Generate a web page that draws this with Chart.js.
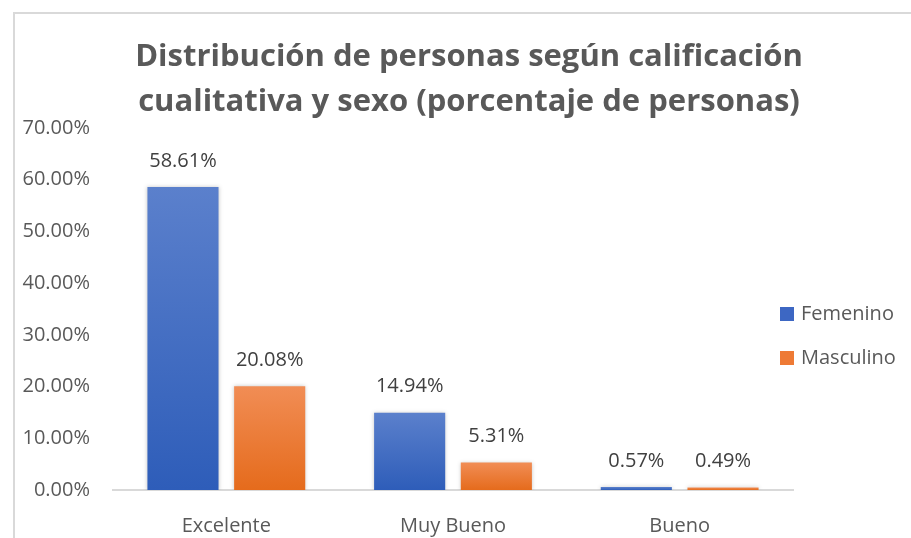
<!DOCTYPE html>
<html lang="es">
<head>
  <meta charset="UTF-8" />
  <title>Distribución de personas</title>
  <script src="https://cdn.jsdelivr.net/npm/chart.js"></script>
  <style>
    html, body { margin: 0; padding: 0; background: #fff; overflow: hidden; }
    #frame { position: absolute; left: 13px; top: 12px; width: 1000px; height: 600px;
             border-left: 2px solid #d9d9d9; border-top: 2px solid #d9d9d9; }
    #wrap { position: absolute; left: 0; top: 0; width: 911px; height: 538px; }
  </style>
</head>
<body>
  <div id="frame"></div>
  <div id="wrap"><canvas id="chart"></canvas></div>

  <script>
    // chart data
    const categories = ['Excelente', 'Muy Bueno', 'Bueno'];
    const femenino   = [58.61, 14.94, 0.57];
    const masculino  = [20.08, 5.31, 0.49];
    const titleLines = ['Distribución de personas según calificación',
                        'cualitativa y sexo (porcentaje de personas)'];

    const FONT = 'Open Sans';
    const GREY = '#595959';
    const legendFills = ['#3d67c3', '#ee7a35'];

    // vertical gradient per bar, light at top, darker at the base
    function barFill(top, bottom) {
      return (ctx) => {
        const chart = ctx.chart;
        if (!chart.chartArea || ctx.raw === undefined) return bottom;
        const y = chart.scales.y;
        const y0 = y.getPixelForValue(ctx.raw);
        const y1 = y.getPixelForValue(0);
        if (y1 - y0 < 1) return top;
        const g = chart.ctx.createLinearGradient(0, y0, 0, y1);
        g.addColorStop(0, top);
        g.addColorStop(1, bottom);
        return g;
      };
    }

    // value labels above the bars
    const valueLabels = {
      id: 'valueLabels',
      afterDatasetsDraw(chart) {
        const c = chart.ctx;
        c.save();
        c.font = `20px "${FONT}"`;
        c.fillStyle = '#404040';
        c.textAlign = 'center';
        c.textBaseline = 'middle';
        chart.data.datasets.forEach((ds, i) => {
          chart.getDatasetMeta(i).data.forEach((bar, j) => {
            c.fillText(ds.data[j].toFixed(2) + '%', bar.x, bar.y - 26);
          });
        });
        c.restore();
      }
    };

    // soft shadow around the bars
    const barShadow = {
      id: 'barShadow',
      beforeDatasetsDraw(chart) {
        const c = chart.ctx;
        c.save();
        c.shadowColor = 'rgba(0,0,0,0.22)';
        c.shadowBlur = 4;
      },
      afterDatasetsDraw(chart) {
        chart.ctx.restore();
      }
    };

    // title: centred on the whole chart frame, not the plot
    const chartTitle = {
      id: 'chartTitle',
      afterDraw(chart) {
        const c = chart.ctx;
        c.save();
        c.font = `bold 31px "${FONT}"`;
        c.fillStyle = GREY;
        c.textAlign = 'center';
        c.textBaseline = 'middle';
        titleLines.forEach((t, i) => c.fillText(t, 469, 57 + i * 45));
        c.restore();
      }
    };

    // legend to the right, Excel style (sits partly over the plot edge)
    const sideLegend = {
      id: 'sideLegend',
      afterDraw(chart) {
        const c = chart.ctx;
        c.save();
        c.font = `20px "${FONT}"`;
        c.textBaseline = 'middle';
        c.textAlign = 'left';
        chart.data.datasets.forEach((ds, i) => {
          const yc = 314 + i * 44;
          c.fillStyle = legendFills[i];
          c.fillRect(780, yc - 7, 14, 14);
          c.fillStyle = GREY;
          c.fillText(ds.label, 801, yc);
        });
        c.restore();
      }
    };

    new Chart(document.getElementById('chart'), {
      type: 'bar',
      data: {
        labels: categories,
        datasets: [
          { label: 'Femenino',  data: femenino,  backgroundColor: barFill('#5b80cc', '#2e5db9'), borderWidth: 0 },
          { label: 'Masculino', data: masculino, backgroundColor: barFill('#f18d55', '#e56b1c'), borderWidth: 0 }
        ]
      },
      options: {
        responsive: true,
        maintainAspectRatio: false,
        animation: false,
        categoryPercentage: 0.765,
        barPercentage: 0.82,
        layout: { padding: { left: 0, right: 118, top: 128, bottom: 0 } },
        plugins: {
          title: { display: false },
          legend: { display: false },
          tooltip: { enabled: false }
        },
        scales: {
          x: {
            grid: { display: false },
            border: { display: true, color: '#d9d9d9', width: 2 },
            ticks: { color: GREY, font: { family: FONT, size: 20 }, padding: 16 },
            afterFit(s) { s.height = 48; }
          },
          y: {
            min: 0,
            max: 70,
            grid: { display: false, drawTicks: false },
            border: { display: false },
            ticks: {
              stepSize: 10,
              color: GREY,
              font: { family: FONT, size: 20 },
              padding: 23,
              callback: (v) => v.toFixed(2) + '%'
            },
            afterFit(s) { s.width = 113; }
          }
        }
      },
      plugins: [barShadow, valueLabels, chartTitle, sideLegend]
    });
  </script>
</body>
</html>
